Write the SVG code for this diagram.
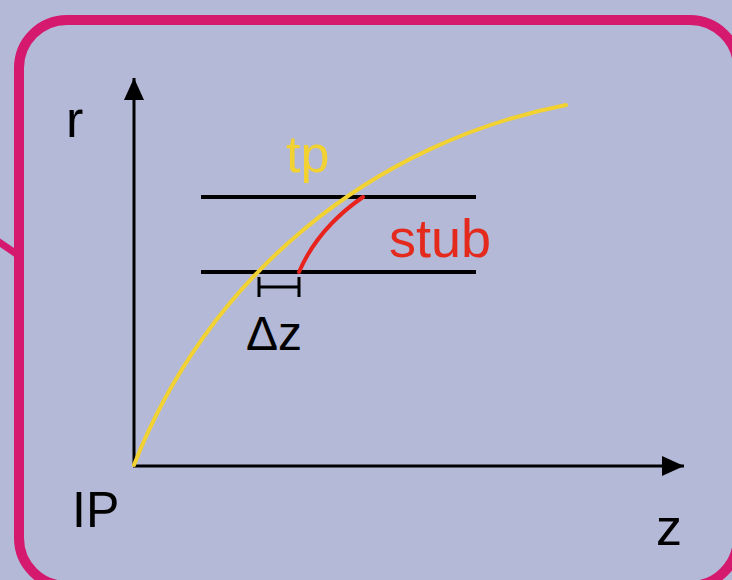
<svg xmlns="http://www.w3.org/2000/svg" width="732" height="580" viewBox="0 0 732 580">
  <defs>
    <marker id="arrow" markerUnits="userSpaceOnUse" markerWidth="24" markerHeight="22" refX="22" refY="10" orient="auto">
      <path d="M0,0 L22,10 L0,20 Z" fill="#000"/>
    </marker>
  </defs>
  <style>
    .lbl { font-family: "Liberation Sans", Arial, sans-serif; }
    .axis { stroke: #000; stroke-width: 3; fill: none; }
    .level { stroke: #000; stroke-width: 4; fill: none; }
  </style>
  <rect x="0" y="0" width="732" height="580" fill="#b3b9d6"/>
  <g id="frame">
    <line x1="-4" y1="240" x2="18" y2="255" stroke="#d4196f" stroke-width="7"/>
    <rect x="19" y="20" width="719" height="566" rx="48" ry="48" fill="none" stroke="#d4196f" stroke-width="10"/>
  </g>
  <g id="axes">
    <line class="axis" x1="134" y1="466" x2="134" y2="78" marker-end="url(#arrow)"/>
    <line class="axis" x1="133" y1="466" x2="684" y2="466" marker-end="url(#arrow)"/>
  </g>
  <g id="levels">
    <line class="level" x1="201" y1="197" x2="476" y2="197"/>
    <line class="level" x1="201" y1="272" x2="476" y2="272"/>
  </g>
  <g id="tp">
    <path d="M134,465 A583,583 0 0 1 566,105" fill="none" stroke="#f2d232" stroke-width="4" stroke-linecap="round"/>
  </g>
  <g id="stub">
    <path d="M299,272 Q318,228 363,197" fill="none" stroke="#e8231e" stroke-width="4" stroke-linecap="round"/>
  </g>
  <g id="dz">
    <path d="M259,277 V297 M299,277 V297 M259,287 H299" stroke="#000" stroke-width="3" fill="none"/>
  </g>
  <g id="labels">
    <text class="lbl" x="66" y="137" font-size="52" fill="#000">r</text>
    <text class="lbl" x="286" y="172" font-size="52" fill="#f2d232">tp</text>
    <text class="lbl" x="389" y="257" font-size="54" fill="#e32a1d">stub</text>
    <text class="lbl" x="246" y="350" font-size="48" fill="#000">Δz</text>
    <text class="lbl" x="72" y="527" font-size="50" fill="#000">IP</text>
    <text class="lbl" x="656" y="545" font-size="52" fill="#000">z</text>
  </g>
</svg>
